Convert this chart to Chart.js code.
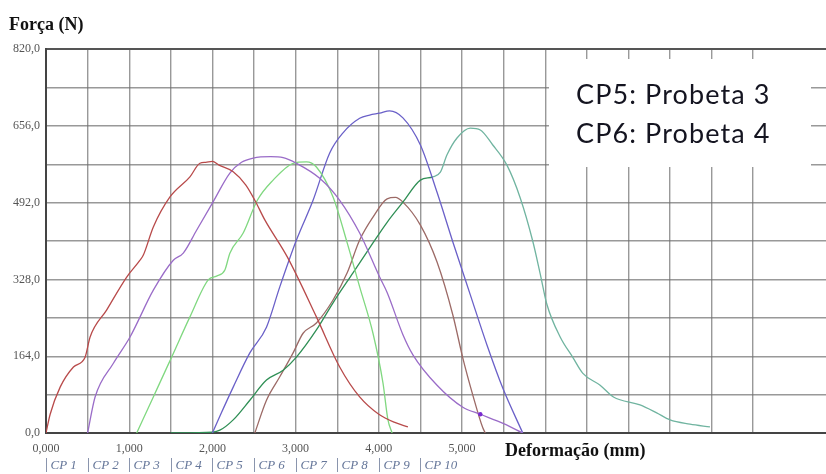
<!DOCTYPE html>
<html>
<head>
<meta charset="utf-8">
<script src="https://cdn.jsdelivr.net/npm/chart.js@4.4.1/dist/chart.umd.min.js"></script>
<style>
  html, body { margin: 0; padding: 0; background: #fff; }
  #wrap { width: 826px; height: 474px; }
</style>
</head>
<body>
<div id="wrap"><canvas id="myChart" width="826" height="474"></canvas></div>
<script>
// curves (x: deformation mm, y: force N)
var cp1X = [0, 0.05, 0.17, 0.33, 0.47, 0.53, 0.73, 0.97, 1.13, 1.17, 1.29, 1.49, 1.73, 1.85, 1.92, 2.0, 2.08, 2.25, 2.4, 2.51, 2.63, 2.9, 3.25, 3.53, 3.77, 4.0, 4.2, 4.35];
var cp1Y = [0, 40, 98, 141, 162, 205, 263, 333, 369, 380, 440, 504, 547, 576, 578, 580, 572, 558, 530, 497, 455, 376, 248, 141, 77, 40, 22, 13];

var cp2X = [0.5, 0.59, 0.81, 1.01, 1.29, 1.53, 1.65, 1.81, 2.0, 2.21, 2.35, 2.49, 2.7, 2.85, 3.01, 3.29, 3.53, 3.77, 4.01, 4.1, 4.29, 4.41, 4.7, 5.01, 5.22, 5.5, 5.73];
var cp2Y = [0, 77, 149, 205, 305, 369, 384, 433, 491, 555, 578, 587, 590, 588, 576, 544, 497, 427, 333, 300, 210, 167, 102, 55, 40, 20, 0];

var cp3X = [1.09, 1.29, 1.51, 1.73, 1.95, 2.05, 2.15, 2.21, 2.37, 2.54, 2.73, 2.97, 3.13, 3.25, 3.45, 3.62, 3.77, 3.93, 4.05, 4.11, 4.16];
var cp3Y = [0, 77, 162, 248, 327, 335, 348, 384, 427, 497, 540, 576, 579, 568, 504, 406, 312, 213, 107, 28, 0];

var cp4X = [2.0, 2.1, 2.25, 2.45, 2.65, 2.81, 3.01, 3.21, 3.41, 3.57, 3.77, 3.89, 4.01, 4.13, 4.29, 4.5, 4.7, 4.89, 5.1, 5.3, 5.49, 5.73];
var cp4Y = [0, 40, 98, 171, 226, 312, 412, 497, 598, 641, 672, 679, 683, 688, 673, 615, 514, 408, 295, 188, 96, 0];

var cp5X = [1.5, 2.0, 2.09, 2.25, 2.45, 2.65, 2.85, 3.01, 3.25, 3.45, 3.69, 3.93, 4.1, 4.29, 4.5, 4.65, 4.74, 4.82, 4.94, 5.1, 5.22, 5.37, 5.54, 5.7, 5.85, 5.94, 6.02, 6.18, 6.33, 6.45, 6.66, 6.82, 7.14, 7.34, 7.5, 7.74, 7.98];
var cp5Y = [0, 2, 6, 28, 70, 113, 134, 162, 220, 278, 342, 406, 450, 493, 540, 547, 557, 594, 630, 651, 647, 615, 572, 502, 410, 340, 275, 205, 162, 128, 102, 77, 60, 43, 28, 19, 13];

var cp6X = [2.51, 2.65, 2.81, 2.97, 3.09, 3.25, 3.45, 3.62, 3.77, 3.93, 4.1, 4.2, 4.29, 4.5, 4.7, 4.89, 5.01, 5.13, 5.25, 5.28];
var cp6Y = [0, 70, 120, 171, 213, 235, 284, 342, 412, 461, 500, 503, 493, 444, 365, 252, 160, 81, 11, 0];

var seriesNames = ['CP 1', 'CP 2', 'CP 3', 'CP 4', 'CP 5', 'CP 6'];
var legendLabels = ['CP 1', 'CP 2', 'CP 3', 'CP 4', 'CP 5', 'CP 6', 'CP 7', 'CP 8', 'CP 9', 'CP 10'];
var noteLines = ['CP5: Probeta 3', 'CP6: Probeta 4'];
var yTitle = 'Força (N)';
var xTitle = 'Deformação (mm)';

function pts(xs, ys) {
    return xs.map(function(x, i) { return {x: x, y: ys[i]}; });
}

function line(label, xs, ys, color) {
    return {
        label: label,
        data: pts(xs, ys),
        borderColor: color,
        backgroundColor: color,
        borderWidth: 1.3,
        pointRadius: 0,
        pointBorderWidth: 0,
        cubicInterpolationMode: 'monotone',
        fill: false
    };
}

var cp2 = line(seriesNames[1], cp2X, cp2Y, '#9a6cc8');
// the little blob on the purple tail
cp2.pointRadius = cp2X.map(function(x) { return x === 5.22 ? 2.2 : 0; });
cp2.pointBackgroundColor = '#7a2ad0';

var cp5 = line(seriesNames[4], cp5X, cp5Y, '#2f8f55');
cp5.segment = {
    borderColor: function(ctx) { return ctx.p0.parsed.x >= 4.6 ? '#70b4a0' : '#2f8f55'; }
};

var serif = 'Liberation Serif';

var extras = {
    id: 'extras',
    beforeDatasetsDraw: function(chart) {
        var c = chart.ctx;
        c.save();
        // white note box over the grid
        c.fillStyle = '#fff';
        c.fillRect(549, 59, 262, 108);
        c.fillStyle = '#141420';
        c.font = '27px Lato';
        c.letterSpacing = '1.1px';
        c.textBaseline = 'alphabetic';
        c.fillText(noteLines[0], 576, 104);
        c.fillText(noteLines[1], 576, 143);
        c.restore();
    },
    afterDraw: function(chart) {
        var c = chart.ctx;
        var xs = chart.scales.x;
        c.save();
        c.fillStyle = '#111';
        c.font = 'bold 18px "' + serif + '"';
        c.textBaseline = 'alphabetic';
        c.fillText(yTitle, 9, 30);
        c.fillText(xTitle, 505, 456);

        // small CP row under the axis
        c.font = 'italic 13px "' + serif + '"';
        c.fillStyle = '#66779a';
        c.strokeStyle = '#8a95ad';
        c.lineWidth = 1;
        legendLabels.forEach(function(t, i) {
            var px = Math.round(xs.getPixelForValue(i * 0.5)) + 0.5;
            c.beginPath();
            c.moveTo(px, 458);
            c.lineTo(px, 472);
            c.stroke();
            c.fillText(t, px + 4, 469);
        });
        c.restore();
    }
};

var ctx = document.getElementById('myChart').getContext('2d');
var chart = new Chart(ctx, {
    type: 'line',
    data: {
        datasets: [
            line(seriesNames[0], cp1X, cp1Y, '#b84a4a'),
            cp2,
            line(seriesNames[2], cp3X, cp3Y, '#80d880'),
            line(seriesNames[3], cp4X, cp4Y, '#6a60c8'),
            cp5,
            line(seriesNames[5], cp6X, cp6Y, '#9c6a66')
        ]
    },
    options: {
        responsive: false,
        animation: false,
        layout: {padding: {top: 49, right: 0, bottom: 0, left: 0}},
        plugins: {legend: {display: false}, tooltip: {enabled: false}},
        scales: {
            x: {
                type: 'linear',
                min: 0,
                max: 9.375,
                afterBuildTicks: function(s) {
                    s.ticks = s.ticks.filter(function(t) { return Math.abs(t.value * 2 - Math.round(t.value * 2)) < 1e-6; });
                },
                afterFit: function(s) { s.height = 41; },
                ticks: {
                    stepSize: 0.5,
                    autoSkip: false,
                    maxRotation: 0,
                    padding: 9,
                    color: '#555',
                    font: {family: serif, size: 12},
                    callback: function(v) {
                        return (Number.isInteger(v) && v <= 5) ? v.toFixed(3).replace('.', ',') : '';
                    }
                },
                grid: {drawTicks: false, color: 'rgba(110,110,110,0.7)', lineWidth: 1.4},
                border: {color: '#444', width: 2}
            },
            y: {
                min: 0,
                max: 820,
                afterFit: function(s) { s.width = 46; },
                ticks: {
                    stepSize: 82,
                    padding: 6,
                    color: '#555',
                    font: {family: serif, size: 12},
                    callback: function(v) {
                        return v % 164 === 0 ? v.toFixed(1).replace('.', ',') : '';
                    }
                },
                grid: {
                    drawTicks: false,
                    lineWidth: function(c) { return c.tick && c.tick.value === 820 ? 2 : 1.4; },
                    color: function(c) { return c.tick && c.tick.value === 820 ? '#555' : 'rgba(110,110,110,0.7)'; }
                },
                border: {color: '#444', width: 2}
            }
        }
    },
    plugins: [extras]
});
</script>
</body>
</html>
